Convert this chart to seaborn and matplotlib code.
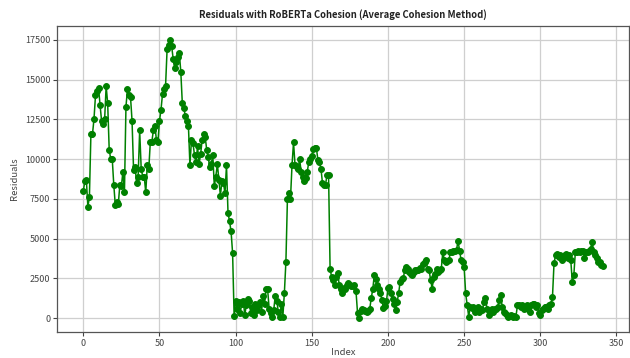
import numpy as np
import pandas as pd
import matplotlib
matplotlib.use("Agg")
import matplotlib.pyplot as plt
import seaborn as sns

# Residual values per observation (index 0..341)
residuals = [
    8000, 8600, 8700, 7000, 7600, 11600, 11550, 12500, 14000, 14300,
    14500, 13400, 12400, 12200, 12500, 14600, 13500, 10600, 10000, 10000,
    8400, 7100, 7300, 7200, 8400, 8300, 9200, 7900, 13300, 14400,
    14000, 13900, 12400, 9300, 9500, 8500, 8900, 11800, 9400, 8900,
    8900, 7900, 9600, 9400, 11100, 11100, 11800, 12100, 11200, 11100,
    12400, 13100, 14100, 14400, 14600, 16900, 17200, 17500, 17100, 16300,
    15700, 16100, 16400, 16700, 15500, 13500, 13200, 12700, 12400, 12100,
    9600, 11200, 11000, 10250, 9830, 10800, 9700, 10300, 11200, 11600,
    11400, 10600, 10100, 9500, 9700, 10250, 8300, 8900, 9700, 8700,
    7700, 8600, 8500, 7850, 9600, 6600, 6100, 5450, 4100, 150,
    1050, 600, 1000, 300, 900, 1100, 200, 800, 1200, 1100,
    300, 700, 200, 900, 500, 800, 1000, 400, 1400, 900,
    1800, 1800, 600, 300, 100, 500, 1400, 1100, 400, 50,
    900, 100, 1600, 3550, 7500, 7850, 7500, 9600, 11050, 9600,
    9500, 9400, 10000, 9200, 8850, 8600, 8800, 9200, 9800, 10000,
    10200, 10650, 10700, 10700, 9950, 9800, 9400, 8500, 8400, 8400,
    9000, 9000, 3100, 2600, 2400, 2100, 2600, 2850, 2100, 1800,
    1600, 1900, 1800, 2100, 2200, 2100, 2000, 2000, 2100, 1700,
    350, 0, 450, 550, 500, 450, 400, 450, 550, 1250,
    1800, 2700, 2450, 2100, 1800, 1600, 1150, 650, 750, 1050,
    1900, 1950, 1550, 1200, 900, 500, 1000, 1550, 2300, 2450,
    2500, 3000, 3200, 3100, 2900, 2750, 2700, 2900, 3000, 3000,
    3000, 3150, 3100, 3400, 3550, 3650, 3100, 3000, 2400, 1850,
    2600, 2800, 3100, 2900, 3000, 3100, 4150, 3650, 3550, 3600,
    3650, 4150, 4150, 4200, 4250, 4300, 4850, 4250, 3650, 3550,
    3200, 1550, 800, 100, 700, 650, 700, 400, 600, 700,
    400, 600, 500, 1000, 1250, 600, 200, 400, 600, 400,
    600, 600, 700, 1150, 1450, 700, 400, 300, 200, 100,
    150, 200, 80, 150, 100, 800, 800, 700, 800, 600,
    700, 800, 600, 400, 800, 900, 900, 700, 800, 300,
    200, 500, 600, 700, 700, 600, 800, 900, 1350, 3450,
    3950, 4050, 3850, 3950, 3650, 3750, 3950, 4050, 3750, 3950,
    3650, 2250, 2700, 4150, 4150, 4250, 4150, 4250, 4250, 3750,
    4150, 4150, 4250, 4350, 4800, 4150, 3950, 3750, 3550, 3500,
    3350, 3250,
]
index = np.arange(len(residuals))

title = "Residuals with RoBERTa Cohesion (Average Cohesion Method)"
x_label = "Index"
y_label = "Residuals"

df = pd.DataFrame({"Index": index, "Residuals": residuals})

sns.set_style("ticks")
plt.rcParams["font.family"] = ["Noto Sans CJK KR", "DejaVu Sans"]

fig = plt.figure(figsize=(6.3, 3.58), dpi=100)
ax = fig.add_axes([0.091, 0.0726, 0.907, 0.855])

sns.lineplot(data=df, x="Index", y="Residuals", ax=ax, color="green",
             marker="o", markersize=4.2, markeredgecolor="green",
             linewidth=1.1)

ax.grid(True, color="#cfcfcf", linewidth=0.9)
ax.set_axisbelow(True)
ax.set_xticks([0, 50, 100, 150, 200, 250, 300, 350])
ax.set_yticks([0, 2500, 5000, 7500, 10000, 12500, 15000, 17500])
ax.tick_params(labelsize=6.5, colors="#444444", length=3, width=0.8, pad=2)
for s in ax.spines.values():
    s.set_color("#555555")
    s.set_linewidth(0.9)

ax.set_title(title, fontsize=6.8, fontweight="bold", color="#222222", pad=6)
ax.set_xlabel(x_label, fontsize=6.8, color="#444444", labelpad=0)
ax.set_ylabel(y_label, fontsize=6.8, color="#444444", labelpad=4)

fig.savefig("out.png", dpi=100)
